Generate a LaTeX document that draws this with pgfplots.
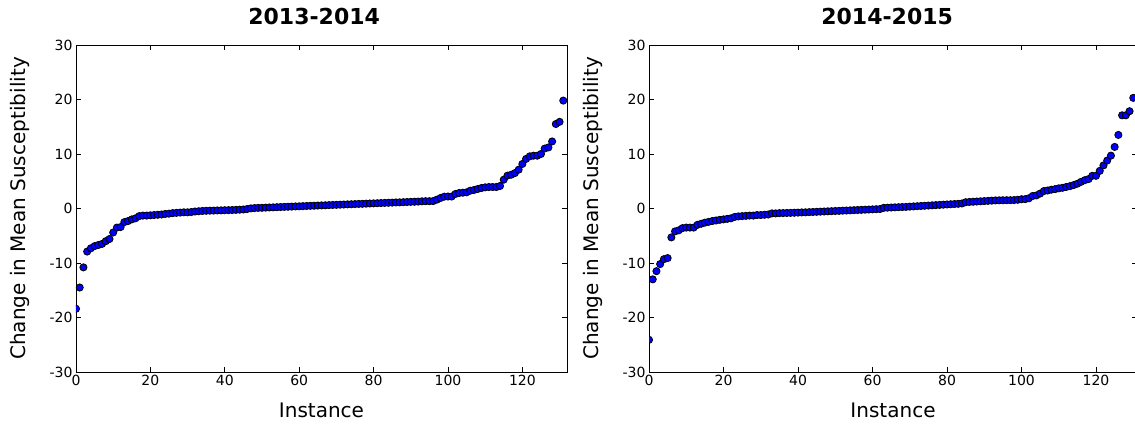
\documentclass[border=0pt]{standalone}
\usepackage{fontspec}
\setmainfont{DejaVu Sans}
\usepackage{pgfplots}
\pgfplotsset{compat=1.18}
\pgfplotstableread{
x y
0 -18.4
1 -14.5
2 -10.8
3 -7.9
4 -7.3
5 -6.9
6 -6.7
7 -6.5
8 -6.0
9 -5.6
10 -4.4
11 -3.5
12 -3.4
13 -2.5
14 -2.3
15 -2.0
16 -1.8
17 -1.4
18 -1.3
19 -1.3
20 -1.25
21 -1.2
22 -1.15
23 -1.1
24 -1.0
25 -0.95
26 -0.85
27 -0.8
28 -0.75
29 -0.7
30 -0.7
31 -0.65
32 -0.55
33 -0.5
34 -0.45
35 -0.42
36 -0.4
37 -0.38
38 -0.36
39 -0.34
40 -0.32
41 -0.3
42 -0.28
43 -0.25
44 -0.22
45 -0.18
46 -0.1
47 0.02
48 0.08
49 0.11
50 0.13
51 0.16
52 0.19
53 0.21
54 0.24
55 0.27
56 0.30
57 0.32
58 0.35
59 0.38
60 0.40
61 0.43
62 0.46
63 0.49
64 0.51
65 0.54
66 0.57
67 0.59
68 0.62
69 0.65
70 0.67
71 0.70
72 0.73
73 0.76
74 0.78
75 0.81
76 0.84
77 0.86
78 0.89
79 0.92
80 0.94
81 0.97
82 1.00
83 1.03
84 1.05
85 1.08
86 1.11
87 1.13
88 1.16
89 1.19
90 1.22
91 1.24
92 1.27
93 1.32
94 1.34
95 1.34
96 1.36
97 1.62
98 1.93
99 2.17
100 2.2
101 2.2
102 2.66
103 2.84
104 2.9
105 2.97
106 3.27
107 3.4
108 3.58
109 3.76
110 3.88
111 3.94
112 3.94
113 3.94
114 4.13
115 5.29
116 6.03
117 6.2
118 6.5
119 7.12
120 8.17
121 9.1
122 9.57
123 9.69
124 9.69
125 10.0
126 11.0
127 11.2
128 12.3
129 15.5
130 15.9
131 19.8
}\tableA
\pgfplotstableread{
x y
0 -24.1
1 -13.0
2 -11.5
3 -10.2
4 -9.3
5 -9.1
6 -5.3
7 -4.2
8 -4.0
9 -3.6
10 -3.5
11 -3.5
12 -3.5
13 -3.0
14 -2.8
15 -2.6
16 -2.45
17 -2.3
18 -2.2
19 -2.08
20 -2.0
21 -1.9
22 -1.8
23 -1.55
24 -1.45
25 -1.4
26 -1.35
27 -1.3
28 -1.3
29 -1.2
30 -1.2
31 -1.15
32 -1.1
33 -0.9
34 -0.9
35 -0.85
36 -0.84
37 -0.82
38 -0.80
39 -0.78
40 -0.75
41 -0.72
42 -0.70
43 -0.67
44 -0.64
45 -0.61
46 -0.58
47 -0.55
48 -0.52
49 -0.49
50 -0.46
51 -0.43
52 -0.40
53 -0.37
54 -0.34
55 -0.31
56 -0.28
57 -0.25
58 -0.22
59 -0.19
60 -0.16
61 -0.13
62 -0.10
63 0.12
64 0.15
65 0.18
66 0.21
67 0.24
68 0.27
69 0.30
70 0.34
71 0.38
72 0.42
73 0.46
74 0.50
75 0.54
76 0.58
77 0.62
78 0.66
79 0.70
80 0.74
81 0.78
82 0.82
83 0.86
84 0.92
85 1.15
86 1.20
87 1.24
88 1.28
89 1.32
90 1.36
91 1.40
92 1.44
93 1.48
94 1.50
95 1.51
96 1.52
97 1.52
98 1.55
99 1.6
100 1.7
101 1.72
102 1.88
103 2.3
104 2.4
105 2.74
106 3.2
107 3.3
108 3.45
109 3.55
110 3.7
111 3.8
112 3.95
113 4.1
114 4.3
115 4.55
116 4.9
117 5.2
118 5.4
119 6.0
120 6.0
121 6.9
122 7.9
123 8.8
124 9.7
125 11.3
126 13.5
127 17.1
128 17.1
129 17.85
130 20.3
}\tableB
\pgfplotsset{
  myax/.style={
    scale only axis, height=327pt,
    anchor=south west,
    ymin=-30, ymax=30, xmin=0,
    ytick={-30,-20,...,30}, xtick={0,20,...,120},
    tick align=inside, major tick length=5pt,
    tick style={black, line width=0.6pt},
    axis line style={line width=0.9pt},
    ticklabel style={font=\fontsize{14}{14}\selectfont},
    /pgf/number format/assume math mode=true,
    xlabel={Instance}, ylabel={Change in Mean Susceptibility},
    every axis x label/.style={at={(axis description cs:0.5,-0.116)}, anchor=center, font=\fontsize{20}{20}\selectfont},
    every axis y label/.style={at={(axis description cs:-0.114,0.5)}, rotate=90, anchor=center, font=\fontsize{20}{20}\selectfont},
    title style={font=\bfseries\fontsize{22}{22}\selectfont, anchor=south, yshift=11pt},
    clip marker paths=true,
  },
  dots/.style={only marks, mark=*, mark size=3.6pt, mark options={fill=blue, draw=black, line width=0.8pt}},
}
\begin{document}
\begin{tikzpicture}
\useasboundingbox (0,0) rectangle (1135pt,423pt);
\begin{axis}[myax, at={(76pt,51pt)}, width=491pt, xmax=132, title={2013-2014},
  title style={at={(axis description cs:0.485,1)}}]
\addplot[dots] table[x=x,y=y] {\tableA};
\end{axis}
\begin{axis}[myax, at={(649pt,51pt)}, width=488pt, xmax=131, title={2014-2015},
  title style={at={(axis description cs:0.488,1)}}]
\addplot[dots] table[x=x,y=y] {\tableB};
\end{axis}
\end{tikzpicture}
\end{document}
